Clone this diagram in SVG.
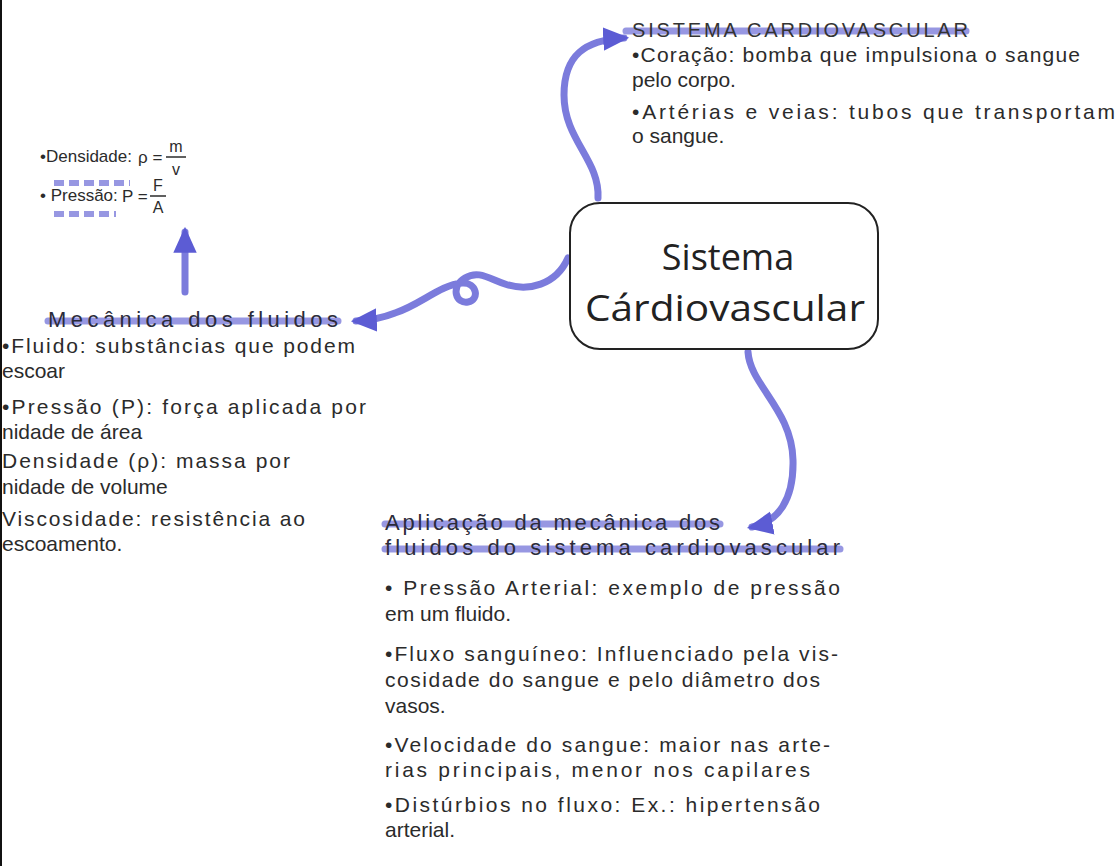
<svg xmlns="http://www.w3.org/2000/svg" width="1117" height="866" viewBox="0 0 1117 866">
<defs>
<style>
.hw{font-family:"Liberation Sans","DejaVu Sans",sans-serif;font-size:21px;fill:#2b2b2b}
.sm{font-family:"Liberation Sans","DejaVu Sans",sans-serif;font-size:17px;fill:#2b2b2b}
.hd{font-family:"Liberation Sans","DejaVu Sans",sans-serif;font-size:22px;fill:#2b2b3a}
.cap{font-family:"Liberation Sans","DejaVu Sans",sans-serif;font-size:20px;fill:#333}
.fr{font-family:"Liberation Sans","DejaVu Sans",sans-serif;font-size:16px;fill:#2b2b2b;text-anchor:middle}
.title{font-family:"Open Sans","Liberation Sans",sans-serif;font-size:36px;fill:#222;text-anchor:middle}
.conn{fill:none;stroke:#7b7bdc;stroke-width:7;stroke-linecap:round;stroke-linejoin:round}
.hl{stroke:#8585de;stroke-width:7;stroke-linecap:round;opacity:0.85}
.dots{stroke:#8585de;stroke-width:6;stroke-dasharray:10 5;opacity:0.85}
</style>
<marker id="ah" viewBox="0 0 20 20" refX="16" refY="10" markerWidth="26" markerHeight="26" markerUnits="userSpaceOnUse" orient="auto">
<path d="M0,1 L20,10 L0,19 z" fill="#5c5cd4"/>
</marker>
</defs>
<rect width="1117" height="866" fill="#ffffff"/>
<line x1="1" y1="0" x2="1" y2="866" stroke="#111" stroke-width="2"/>

<g id="connectors">
<path class="conn" d="M598 198 C600 160,564 140,564 95 C564 55,585 40,624 38" marker-end="url(#ah)"/>
<path class="conn" d="M568 258 C556 285,528 292,505 284 C488 278,478 270,465 278 C450 287,456 304,468 302 C480 300,477 282,462 283 C440 285,420 305,395 313 C385 317,375 320,356 321" marker-end="url(#ah)"/>
<path class="conn" d="M748 352 C750 385,792 410,793 460 C794 500,778 522,752 527" marker-end="url(#ah)"/>
<path class="conn" d="M185 292 L185 232" marker-end="url(#ah)"/>
</g>

<g id="central">
<rect x="570" y="203" width="308" height="146" rx="30" ry="30" fill="#fff" stroke="#222" stroke-width="2"/>
<text class="title" x="728" y="270">Sistema</text>
<text class="title" x="725" y="321" textLength="280" lengthAdjust="spacingAndGlyphs">Cárdiovascular</text>
</g>

<g id="sistema-cardiovascular">
<line class="hl" x1="626" y1="31" x2="966" y2="31"/>
<text class="cap" x="632" y="37" textLength="336" lengthAdjust="spacing">SISTEMA CARDIOVASCULAR</text>
<text class="hw" x="632" y="62" textLength="448" lengthAdjust="spacing">•Coração: bomba que impulsiona o sangue</text>
<text class="hw" x="632" y="87">pelo corpo.</text>
<text class="hw" x="632" y="119" textLength="483" lengthAdjust="spacing">•Artérias e veias: tubos que transportam</text>
<text class="hw" x="632" y="143">o sangue.</text>
</g>

<g id="formulas">
<line class="dots" x1="54" y1="183" x2="130" y2="183"/>
<line class="dots" x1="54" y1="214" x2="116" y2="214"/>
<text class="sm" x="40" y="162">•Densidade:</text>
<text class="sm" x="138" y="163">ρ =</text>
<text class="fr" x="176" y="152">m</text>
<line x1="166" y1="157" x2="186" y2="157" stroke="#2b2b2b" stroke-width="1.5"/>
<text class="fr" x="176" y="175">v</text>
<text class="sm" x="40" y="201">• Pressão:</text>
<text class="sm" x="122" y="202">P =</text>
<text class="fr" x="158" y="191">F</text>
<line x1="150" y1="196" x2="166" y2="196" stroke="#2b2b2b" stroke-width="1.5"/>
<text class="fr" x="158" y="213">A</text>
</g>

<g id="mecanica-dos-fluidos">
<line class="hl" x1="48" y1="321" x2="338" y2="321"/>
<text class="hd" x="48" y="327" textLength="290" lengthAdjust="spacing">Mecânica dos fluidos</text>
<text class="hw" x="2" y="353" textLength="353" lengthAdjust="spacing">•Fluido: substâncias que podem</text>
<text class="hw" x="2" y="378">escoar</text>
<text class="hw" x="2" y="414" textLength="364" lengthAdjust="spacing">•Pressão (P): força aplicada por</text>
<text class="hw" x="2" y="439">nidade de área</text>
<text class="hw" x="2" y="468" textLength="288" lengthAdjust="spacing">Densidade (ρ): massa por</text>
<text class="hw" x="2" y="494">nidade de volume</text>
<text class="hw" x="2" y="526" textLength="303" lengthAdjust="spacing">Viscosidade: resistência ao</text>
<text class="hw" x="2" y="551">escoamento.</text>
</g>

<g id="aplicacao">
<line class="hl" x1="385" y1="524" x2="720" y2="524"/>
<line class="hl" x1="385" y1="549" x2="840" y2="549"/>
<text class="hd" x="385" y="530" textLength="335" lengthAdjust="spacing">Aplicação da mecânica dos</text>
<text class="hd" x="385" y="555" textLength="455" lengthAdjust="spacing">fluidos do sistema cardiovascular</text>
<text class="hw" x="385" y="595" textLength="455" lengthAdjust="spacing">• Pressão Arterial: exemplo de pressão</text>
<text class="hw" x="385" y="621">em um fluido.</text>
<text class="hw" x="385" y="661" textLength="453" lengthAdjust="spacing">•Fluxo sanguíneo: Influenciado pela vis-</text>
<text class="hw" x="385" y="687" textLength="435" lengthAdjust="spacing">cosidade do sangue e pelo diâmetro dos</text>
<text class="hw" x="385" y="713">vasos.</text>
<text class="hw" x="385" y="752" textLength="445" lengthAdjust="spacing">•Velocidade do sangue: maior nas arte-</text>
<text class="hw" x="385" y="777" textLength="425" lengthAdjust="spacing">rias principais, menor nos capilares</text>
<text class="hw" x="385" y="812" textLength="435" lengthAdjust="spacing">•Distúrbios no fluxo: Ex.: hipertensão</text>
<text class="hw" x="385" y="837">arterial.</text>
</g>
</svg>
